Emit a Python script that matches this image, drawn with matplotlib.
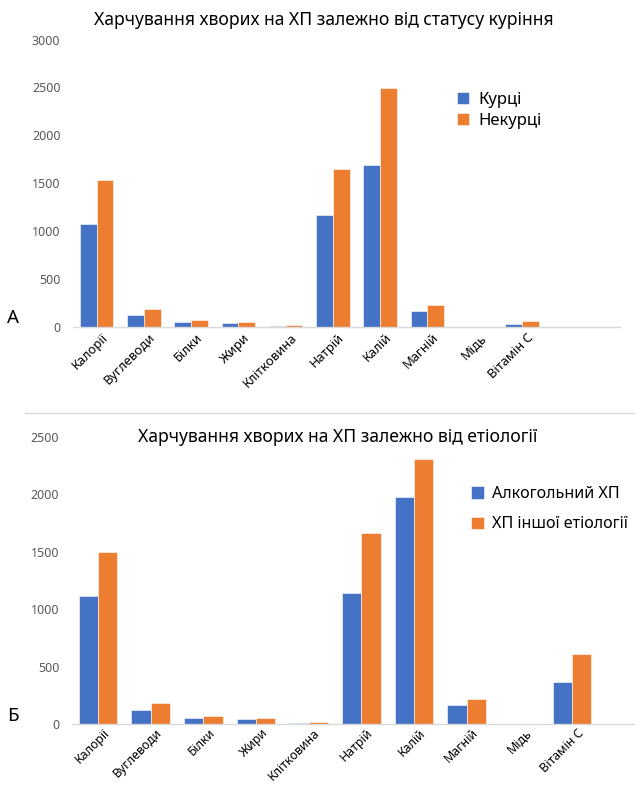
import matplotlib
matplotlib.use("Agg")
import matplotlib.pyplot as plt
import matplotlib.transforms as mtransforms
import numpy as np

plt.rcParams['font.family'] = ['Noto Sans', 'DejaVu Sans']

# Nutrient categories
categories_a = ["Калорії", "Вуглеводи", "Білки", "Жири", "Клітковина", "Натрій",
                "Калій", "Магній", "Мідь", "Вітамін С", ""]
categories_b = ["Калорії", "Вуглеводи", "Білки", "Жири", "Клітковина", "Натрій",
                "Калій", "Магній", "Мідь", "Вітамін С"]

# Panel A: smoking status
smokers = [1080, 125, 52, 40, 10, 1170, 1695, 165, 3, 32, 3]
non_smokers = [1535, 190, 70, 52, 18, 1650, 2490, 228, 3, 64, 4]
series_a = ["Курці", "Некурці"]

# Panel B: etiology
alcoholic = [1118, 128, 52, 43, 11, 1145, 1980, 172, 0, 370]
other_etiology = [1502, 181, 71, 52, 17, 1662, 2305, 217, 0, 610]
series_b = ["Алкогольний ХП", "ХП іншої етіології"]

ticks_a = [0, 500, 1000, 1500, 2000, 2500, 3000]
ticks_b = [0, 500, 1000, 1500, 2000, 2500]

titles = ["Харчування хворих на ХП залежно від статусу куріння",
          "Харчування хворих на ХП залежно від етіології"]
panel_labels = ["А", "Б"]

BLUE = "#4472C4"
ORANGE = "#ED7D31"

W, H = 635, 785
fig = plt.figure(figsize=(W / 100, H / 100), dpi=100)


def px_rect(x0, x1, y_top, y_bot):
    return [x0 / W, 1 - y_bot / H, (x1 - x0) / W, (y_bot - y_top) / H]


def draw_panel(ax, cats, s1, s2, names, yticks, xmax, width, xfs, xpad):
    x = np.arange(len(cats))
    b1 = ax.bar(x - width / 2, s1, width, color=BLUE, edgecolor="white",
                linewidth=0.4, label=names[0])
    b2 = ax.bar(x + width / 2, s2, width, color=ORANGE, edgecolor="white",
                linewidth=0.4, label=names[1])
    ax.set_xlim(-0.5, xmax)
    ax.set_ylim(0, yticks[-1])
    ax.set_yticks(yticks)
    ax.set_yticklabels([str(t) for t in yticks], color="#595959", fontsize=9)
    ax.set_xticks(x)
    ax.set_xticklabels(cats, rotation=45, ha="right", rotation_mode="anchor",
                       fontsize=xfs, color="black")
    ax.tick_params(axis="both", length=0)
    ax.tick_params(axis="y", pad=9)
    ax.tick_params(axis="x", pad=xpad)
    shift = mtransforms.ScaledTranslation(5 / 100, 0, fig.dpi_scale_trans)
    for lbl in ax.get_xticklabels():
        lbl.set_transform(lbl.get_transform() + shift)
    for side in ("top", "right", "left"):
        ax.spines[side].set_visible(False)
    ax.spines["bottom"].set_color("#d9d9d9")
    ax.spines["bottom"].set_linewidth(1.0)
    ax.patch.set_alpha(0)
    return b1, b2


# Panel A
ax1 = fig.add_axes(px_rect(73, 620, 39.5, 327))
h1 = draw_panel(ax1, categories_a, smokers, non_smokers, series_a, ticks_a,
                11.08, 0.355, 9.3, 3)
ax1.legend(handles=h1, loc="upper left", bbox_to_anchor=(457 / W, 1 - 92 / H),
           bbox_transform=fig.transFigure, frameon=False, fontsize=12,
           handlelength=0.7, handleheight=0.7, handletextpad=0.6,
           labelspacing=0.3, borderaxespad=0, borderpad=0)

# Panel B
ax2 = fig.add_axes(px_rect(71.7, 635, 436.7, 724.3))
h2 = draw_panel(ax2, categories_b, alcoholic, other_etiology, series_b, ticks_b,
                10.2, 0.366, 8.9, 1.5)
ax2.legend(handles=h2, loc="upper left", bbox_to_anchor=(471 / W, 1 - 486 / H),
           bbox_transform=fig.transFigure, frameon=False, fontsize=11.6,
           handlelength=0.8, handleheight=0.8, handletextpad=0.5,
           labelspacing=0.9, borderaxespad=0, borderpad=0)

# Titles
fig.text(324 / W, 1 - 20 / H, titles[0], ha="center", va="center", fontsize=12.6)
fig.text(338 / W, 1 - 437 / H, titles[1], ha="center", va="center", fontsize=12.6)

# Panel letters
fig.text(7 / W, 1 - 318 / H, panel_labels[0], ha="left", va="center", fontsize=13.5)
fig.text(7 / W, 1 - 716 / H, panel_labels[1], ha="left", va="center", fontsize=13.5)

# Separator between the two panels
fig.add_artist(plt.Line2D([25 / W, 1.0], [1 - 413 / H, 1 - 413 / H],
                          transform=fig.transFigure, color="#d9d9d9", linewidth=1.0))

fig.savefig("out.png", dpi=100)
